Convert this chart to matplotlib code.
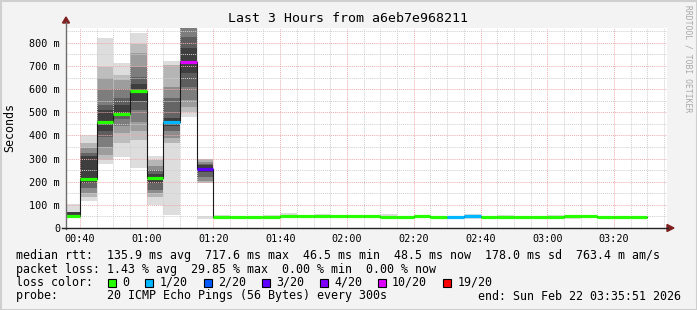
import numpy as np
import matplotlib
matplotlib.use("Agg")
import matplotlib.pyplot as plt
import matplotlib.ticker as tic
from matplotlib.lines import Line2D
from matplotlib.patches import Rectangle, Polygon

W, H = 697, 310

# one bar every 300 s, first one starts 00:35 (minutes after midnight)
start_min = 35
step_min = 5

# median rtt per bar (ms)
median = [51, 210, 457, 494, 590, 218, 458, 717.6, 257,
          47, 46.5, 46.5, 47, 50, 50, 51, 50, 50, 52, 47, 49, 52, 47,
          47, 51,
          47, 47, 46.5, 46.5, 47, 50, 50, 48.5, 48.5, 48.5]
# lost pings out of 20
loss = [0, 0, 0, 0, 0, 0, 1, 6, 3,
        0, 0, 0, 0, 0, 0, 0, 0, 0, 0, 0, 0, 0, 0,
        1, 1,
        0, 0, 0, 0, 0, 0, 0, 0, 0, 0]
# smoke bands (outer -> inner), ms
smoke_lo = [[43, 45], [115, 136, 151, 172, 194], [277, 295, 316, 350, 393, 420],
            [308, 367, 410, 440, 470, 485], [259, 380, 420, 460, 510, 550],
            [100, 136, 151, 165, 194], [57, 366, 390, 420, 440],
            [481, 503, 524, 553, 610, 668], [40, 194, 205, 220, 240],
            [40], [44], [44], [44], [47], [48], [48], [47], [45], [45], [40], [46], [46], [44],
            [44], [40],
            [44], [44], [43], [43], [45], [38], [46], [45], [45], [45]]
smoke_hi = [[103, 70], [402, 366, 345, 323, 309], [819, 697, 647, 599, 531, 510],
            [712, 661, 639, 599, 560, 530], [843, 797, 754, 697, 653, 620],
            [312, 294, 266, 250, 235], [722, 705, 610, 560, 475],
            [1000, 950, 900, 870, 826, 776], [53, 297, 285, 278, 272],
            [55], [49], [49], [56], [66], [58], [60], [55], [57], [55], [62], [54], [56], [50],
            [50], [60],
            [50], [56], [49], [49], [58], [54], [52], [51], [51], [51]]

loss_levels = [0, 1, 2, 3, 4, 10, 19]
loss_labels = ["0", "1/20", "2/20", "3/20", "4/20", "10/20", "19/20"]
loss_colors = ["#26ff00", "#00b8ff", "#0059ff", "#5e00ff", "#7e00ff", "#dd00ff", "#ff0000"]

yticks = [0, 100, 200, 300, 400, 500, 600, 700, 800]
ytick_labels = ["0", "100 m", "200 m", "300 m", "400 m", "500 m", "600 m", "700 m", "800 m"]
xticks = [40, 60, 80, 100, 120, 140, 160, 180, 200]
xtick_labels = ["00:40", "01:00", "01:20", "01:40", "02:00", "02:20", "02:40", "03:00", "03:20"]

title = "Last 3 Hours from a6eb7e968211"
stats_rtt = "median rtt:  135.9 ms avg  717.6 ms max  46.5 ms min  48.5 ms now  178.0 ms sd  763.4 m am/s"
stats_loss = "packet loss: 1.43 % avg  29.85 % max  0.00 % min  0.00 % now"
probe = "probe:       20 ICMP Echo Pings (56 Bytes) every 300s"
end_txt = "end: Sun Feb 22 03:35:51 2026"

plt.rcParams["font.family"] = "DejaVu Sans Mono"
FS = 8.4


def fx(px):
    return px / W


def fy(py):
    return 1 - py / H


fig = plt.figure(figsize=(W / 100, H / 100), dpi=100, facecolor="#f3f3f3")
ax = fig.add_axes([fx(66), fy(228), 601 / W, 200 / H])
ax.set_facecolor("white")
ax.set_xlim(start_min + 51 / 60, start_min + 180 + 51 / 60)
ax.set_ylim(0, 864)

t = start_min + step_min * np.arange(len(median))

# smoke
for i in range(len(median)):
    n = len(smoke_lo[i])
    for k in range(n):
        g = 221 if n == 1 else int(221 - k * (221 - 62) / (n - 1))
        ax.bar(t[i], smoke_hi[i][k] - smoke_lo[i][k], bottom=smoke_lo[i][k], width=step_min,
               align="edge", color="#%02x%02x%02x" % (g, g, g), linewidth=0, zorder=1)

# median step line + loss coloured medians
xs = np.append(t, t[-1] + step_min)
ys = np.append(median, median[-1])
ax.step(xs, ys, where="post", color="#1a1a1a", lw=0.8, zorder=2)
cols = []
for l in loss:
    idx = next(j for j, lv in enumerate(loss_levels) if lv >= l)
    cols.append(loss_colors[idx])
ax.hlines(median, t, t + step_min, colors=cols, lw=2.3, zorder=3)

# grid
ax.xaxis.set_major_locator(tic.FixedLocator(xticks))
ax.xaxis.set_major_formatter(tic.FixedFormatter(xtick_labels))
ax.xaxis.set_minor_locator(tic.MultipleLocator(5))
ax.yaxis.set_major_locator(tic.FixedLocator(yticks))
ax.yaxis.set_major_formatter(tic.FixedFormatter(ytick_labels))
ax.yaxis.set_minor_locator(tic.MultipleLocator(50))
ax.set_axisbelow("line")
ax.grid(which="minor", color="#cfcfcf", ls=(0, (1, 1)), lw=0.7)
ax.grid(which="major", color="#f0abab", ls=(0, (1, 1)), lw=0.7)
ax.tick_params(which="both", length=0, labelsize=7.3, colors="#000000")
ax.tick_params(axis="y", pad=4.3)
ax.tick_params(axis="x", pad=4.0)
for s in ax.spines.values():
    s.set_visible(False)

# axis lines with arrows
fig.add_artist(Line2D([fx(66), fx(66)], [fy(229), fy(22)], color="#6e6e6e", lw=1.0))
fig.add_artist(Line2D([fx(62), fx(668)], [fy(228), fy(228)], color="#222222", lw=1.0))
fig.add_artist(Polygon([[fx(62.5), fy(23)], [fx(69.5), fy(23)], [fx(66), fy(17)]],
                       closed=True, color="#7f1f1f", transform=fig.transFigure))
fig.add_artist(Polygon([[fx(667), fy(224.5)], [fx(667), fy(231.5)], [fx(674), fy(228)]],
                       closed=True, color="#7f1f1f", transform=fig.transFigure))

# texts
fig.text(fx(348), fy(18), title, ha="center", va="center", fontsize=9.5)
fig.text(fx(10), fy(128), "Seconds", ha="center", va="center", rotation=90, fontsize=FS)
fig.text(fx(688), fy(5), "RRDTOOL / TOBI OETIKER", ha="center", va="top", rotation=270,
         fontsize=5.8, color="#a8a8a8")
fig.text(fx(16), fy(255), stats_rtt, ha="left", va="center", fontsize=FS)
fig.text(fx(16), fy(269), stats_loss, ha="left", va="center", fontsize=FS)
fig.text(fx(16), fy(282), "loss color:", ha="left", va="center", fontsize=FS)
fig.text(fx(16), fy(296), probe, ha="left", va="center", fontsize=FS)
fig.text(fx(681), fy(296), end_txt, ha="right", va="center", fontsize=FS)

cw = 0.602 * FS * 100 / 72
bx = 108.4
for lab, c in zip(loss_labels, loss_colors):
    fig.add_artist(Rectangle((fx(bx), fy(286.5)), 8 / W, 8 / H, facecolor=c,
                             edgecolor="black", lw=0.8, transform=fig.transFigure))
    fig.text(fx(bx + 14.3), fy(282), lab, ha="left", va="center", fontsize=FS)
    bx = bx + 14.3 + len(lab) * cw + 15.7

# frame
for xy in ([[0, 1], [1 - 0.5 / H, 1 - 0.5 / H]], [[0.5 / W, 0.5 / W], [0, 1]],
           [[0, 1], [0.5 / H, 0.5 / H]], [[1 - 0.5 / W, 1 - 0.5 / W], [0, 1]]):
    fig.add_artist(Line2D(xy[0], xy[1], color="#cfcfcf", lw=1.5))

fig.savefig("out.png", dpi=100, facecolor=fig.get_facecolor())
